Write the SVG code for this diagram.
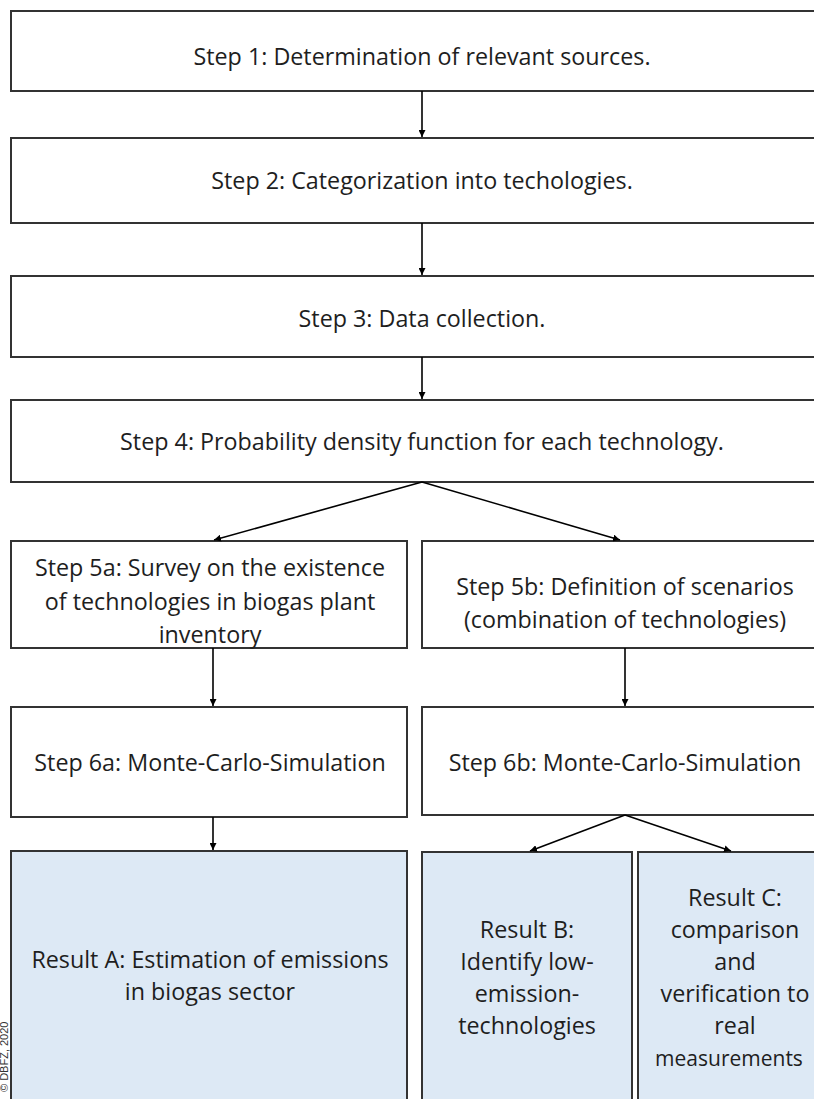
<svg xmlns="http://www.w3.org/2000/svg" width="814" height="1099" viewBox="0 0 814 1099">
<style>
.box{fill:#ffffff;stroke:#333333;stroke-width:2}
.res{fill:#dde9f5;stroke:#333333;stroke-width:2}
.t{font-family:"Open Sans","Noto Sans","Liberation Sans",sans-serif;font-size:23.3px;fill:#1e1e1e;text-anchor:middle}
.c{stroke:#000000;stroke-width:1.6;fill:none}
.copy{font-family:"Liberation Sans",Arial,sans-serif;font-size:11px;fill:#333333}
</style>
<defs>
<marker id="ah" viewBox="0 0 10 10" refX="10" refY="5" markerWidth="7" markerHeight="7" orient="auto" markerUnits="userSpaceOnUse">
<path d="M0,0 L10,5 L0,10 z" fill="#000000"/>
</marker>
</defs>
<rect width="814" height="1099" fill="#ffffff"/>
<g id="step1"><rect class="box" x="11" y="11" width="830" height="80"/><text class="t" x="422" y="65">Step 1: Determination of relevant sources.</text></g>
<g id="step2"><rect class="box" x="11" y="138" width="830" height="85"/><text class="t" x="422" y="189">Step 2: Categorization into techologies.</text></g>
<g id="step3"><rect class="box" x="11" y="276" width="830" height="81"/><text class="t" x="422" y="327">Step 3: Data collection.</text></g>
<g id="step4"><rect class="box" x="11" y="400" width="830" height="82"/><text class="t" x="422" y="450">Step 4: Probability density function for each technology.</text></g>
<g id="step5a"><rect class="box" x="11" y="541" width="396" height="107"/><text class="t" x="210" y="576">Step 5a: Survey on the existence</text><text class="t" x="210" y="610">of technologies in biogas plant</text><text class="t" x="210" y="643">inventory</text></g>
<g id="step5b"><rect class="box" x="422" y="541" width="420" height="107"/><text class="t" x="625" y="595">Step 5b: Definition of scenarios</text><text class="t" x="625" y="628">(combination of technologies)</text></g>
<g id="step6a"><rect class="box" x="11" y="707" width="396" height="110"/><text class="t" x="210" y="771">Step 6a: Monte-Carlo-Simulation</text></g>
<g id="step6b"><rect class="box" x="422" y="707" width="420" height="108"/><text class="t" x="625" y="771">Step 6b: Monte-Carlo-Simulation</text></g>
<g id="resultA"><rect class="res" x="11" y="851" width="396" height="260"/><text class="t" x="210" y="968">Result A: Estimation of emissions</text><text class="t" x="210" y="1000">in biogas sector</text></g>
<g id="resultB"><rect class="res" x="422" y="852" width="210" height="260"/><text class="t" x="527" y="938">Result B:</text><text class="t" x="527" y="970">Identify low-</text><text class="t" x="527" y="1002">emission-</text><text class="t" x="527" y="1034">technologies</text></g>
<g id="resultC"><rect class="res" x="638" y="852" width="200" height="260"/><text class="t" x="735" y="906">Result C:</text><text class="t" x="735" y="938">comparison</text><text class="t" x="735" y="970">and</text><text class="t" x="735" y="1002">verification to</text><text class="t" x="735" y="1034">real</text><text class="t" x="729" y="1066" style="font-size:21px">measurements</text></g>
<g id="connectors">
<line class="c" x1="422" y1="91" x2="422" y2="137" marker-end="url(#ah)"/>
<line class="c" x1="422" y1="223" x2="422" y2="275" marker-end="url(#ah)"/>
<line class="c" x1="422" y1="357" x2="422" y2="399" marker-end="url(#ah)"/>
<line class="c" x1="422" y1="482" x2="214" y2="540" marker-end="url(#ah)"/>
<line class="c" x1="422" y1="482" x2="620" y2="540" marker-end="url(#ah)"/>
<line class="c" x1="213" y1="648" x2="213" y2="706" marker-end="url(#ah)"/>
<line class="c" x1="625" y1="648" x2="625" y2="706" marker-end="url(#ah)"/>
<line class="c" x1="213" y1="817" x2="213" y2="850" marker-end="url(#ah)"/>
<line class="c" x1="625" y1="815" x2="530" y2="851" marker-end="url(#ah)"/>
<line class="c" x1="625" y1="815" x2="731" y2="851" marker-end="url(#ah)"/>
</g>
<text class="copy" transform="translate(8,1092) rotate(-90)">© DBFZ, 2020</text>
</svg>
